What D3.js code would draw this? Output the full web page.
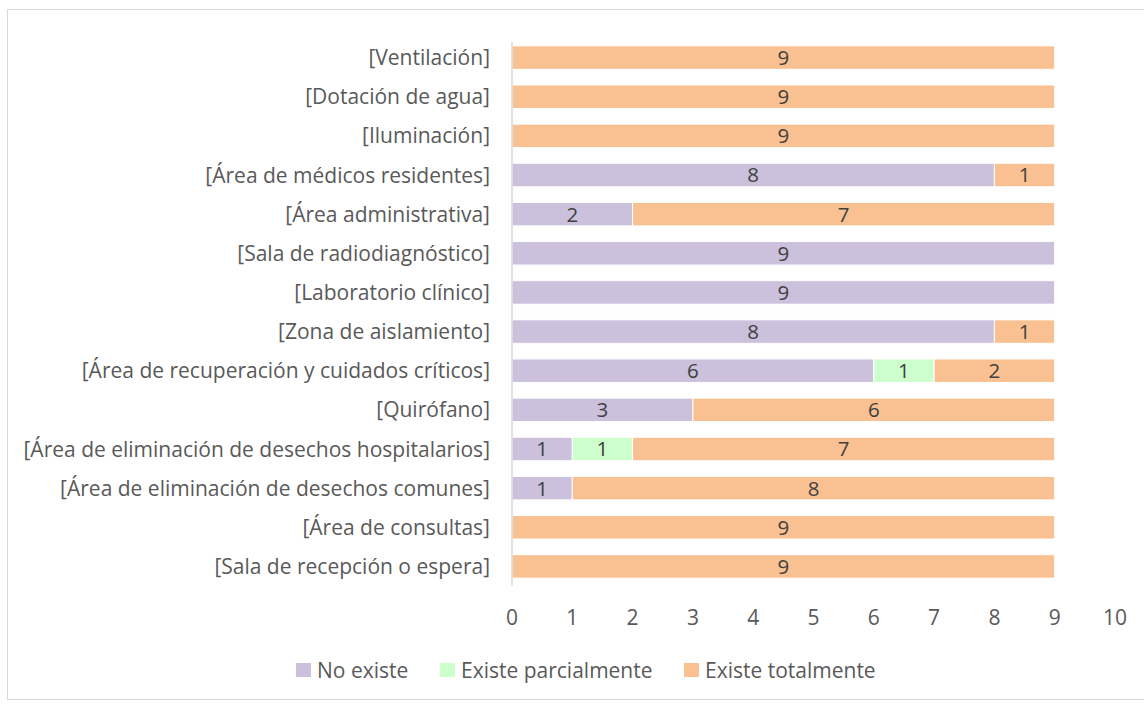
<!DOCTYPE html>
<html>
<head>
<meta charset="utf-8">
<script src="https://cdn.jsdelivr.net/npm/d3@7"></script>
<style>
  body { margin: 0; background: #fff; }
  text { font-family: "Open Sans", sans-serif; fill: #595959; }
</style>
</head>
<body>
<svg id="chart" width="1144" height="704"></svg>
<script>
// Categories from top to bottom
var categories = [
  "[Ventilación]",
  "[Dotación de agua]",
  "[Iluminación]",
  "[Área de médicos residentes]",
  "[Área administrativa]",
  "[Sala de radiodiagnóstico]",
  "[Laboratorio clínico]",
  "[Zona de aislamiento]",
  "[Área de recuperación y cuidados críticos]",
  "[Quirófano]",
  "[Área de eliminación de desechos hospitalarios]",
  "[Área de eliminación de desechos comunes]",
  "[Área de consultas]",
  "[Sala de recepción o espera]"
];

// Series values
var noExiste       = [0, 0, 0, 8, 2, 9, 9, 8, 6, 3, 1, 1, 0, 0];
var existeParcial  = [0, 0, 0, 0, 0, 0, 0, 0, 1, 0, 1, 0, 0, 0];
var existeTotal    = [9, 9, 9, 1, 7, 0, 0, 1, 2, 6, 7, 8, 9, 9];

var seriesNames = ["No existe", "Existe parcialmente", "Existe totalmente"];
var seriesColors = ["#cbc1dd", "#ccffcc", "#f9c191"];
var xTicks = [0, 1, 2, 3, 4, 5, 6, 7, 8, 9, 10];

var svg = d3.select("#chart");

// Chart border
svg.append("rect")
  .attr("x", 7.5).attr("y", 9.5)
  .attr("width", 1140).attr("height", 690)
  .attr("fill", "none")
  .attr("stroke", "#d9d9d9");

var margin = {left: 512, right: 29, top: 38, bottom: 118};

var x = d3.scaleLinear().domain([0, 10]).range([margin.left, 1144 - margin.right]);
var y = d3.scaleBand().domain(categories).range([margin.top, 704 - margin.bottom]).paddingInner(0.4).paddingOuter(0.2);

// Build stacked data
var rows = categories.map(function(c, i) {
  return {cat: c, s0: noExiste[i], s1: existeParcial[i], s2: existeTotal[i]};
});
var stack = d3.stack().keys(["s0", "s1", "s2"]);
var layers = stack(rows);

var g = svg.append("g");

layers.forEach(function(layer, k) {
  var segs = g.append("g").selectAll("g")
    .data(layer.filter(function(d) { return d[1] - d[0] > 0; }))
    .enter().append("g");

  segs.append("rect")
    .attr("x", function(d) { return x(d[0]); })
    .attr("y", function(d) { return y(d.data.cat); })
    .attr("width", function(d) { return x(d[1]) - x(d[0]); })
    .attr("height", y.bandwidth())
    .attr("fill", seriesColors[k])
    .attr("stroke", "#fff")
    .attr("stroke-width", 1);

  segs.append("text")
    .attr("x", function(d) { return (x(d[0]) + x(d[1])) / 2; })
    .attr("y", function(d) { return y(d.data.cat) + y.bandwidth() / 2; })
    .attr("dy", "0.36em")
    .attr("text-anchor", "middle")
    .style("font-size", "20.5px")
    .style("fill", "#404040")
    .text(function(d) { return d[1] - d[0]; });
});

// Vertical axis line
svg.append("line")
  .attr("x1", x(0)).attr("x2", x(0))
  .attr("y1", margin.top + 4).attr("y2", 704 - margin.bottom)
  .attr("stroke", "#d9d9d9")
  .attr("stroke-width", 1.5);

// Category labels
svg.append("g").selectAll("text")
  .data(categories)
  .enter().append("text")
  .attr("x", x(0) - 22)
  .attr("y", function(d) { return y(d) + y.bandwidth() / 2; })
  .attr("dy", "0.36em")
  .attr("text-anchor", "end")
  .style("font-size", "21px")
  .text(function(d) { return d; });

// X tick labels
svg.append("g").selectAll("text")
  .data(xTicks)
  .enter().append("text")
  .attr("x", function(d) { return x(d); })
  .attr("y", 617)
  .attr("dy", "0.36em")
  .attr("text-anchor", "middle")
  .style("font-size", "21px")
  .text(function(d) { return d; });

// Legend
var legendX = [296, 440, 684];
var legend = svg.append("g").selectAll("g")
  .data(seriesNames)
  .enter().append("g")
  .attr("transform", function(d, i) { return "translate(" + legendX[i] + ",670)"; });

legend.append("rect")
  .attr("x", 0).attr("y", -7)
  .attr("width", 15).attr("height", 14)
  .attr("fill", function(d, i) { return seriesColors[i]; });

legend.append("text")
  .attr("x", 21)
  .attr("dy", "0.36em")
  .style("font-size", "21px")
  .text(function(d) { return d; });
</script>
</body>
</html>
